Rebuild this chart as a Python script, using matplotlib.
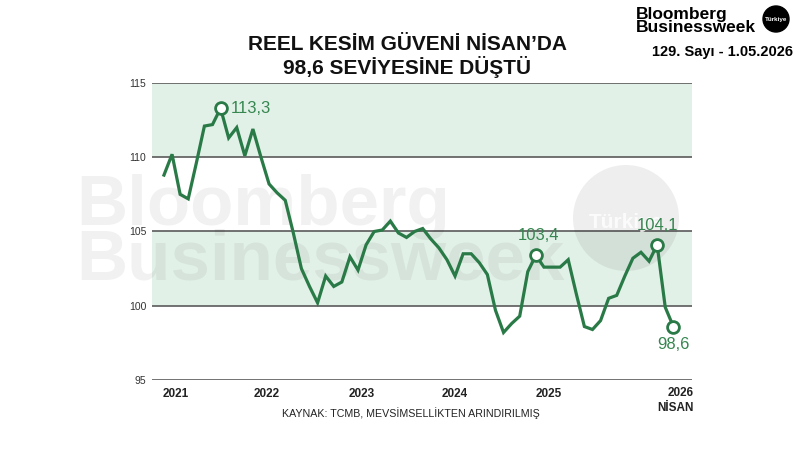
import matplotlib
matplotlib.use("Agg")
import matplotlib.pyplot as plt
from matplotlib.patches import Ellipse

plt.rcParams['font.family'] = ['Liberation Sans', 'DejaVu Sans']

# Reel kesim güven endeksi (mevsimsellikten arındırılmış), Ocak 2021 - Nisan 2026
degerler = [
    108.8, 110.2, 107.5, 107.2, 109.6, 112.1, 112.2, 113.3, 111.3, 112.0, 110.1, 111.9,
    110.0, 108.2, 107.6, 107.1, 104.9, 102.5, 101.3, 100.2, 102.0, 101.3, 101.6, 103.3,
    102.4, 104.1, 105.0, 105.1, 105.7, 104.9, 104.6, 105.0, 105.2, 104.5, 103.9, 103.1,
    102.0, 103.5, 103.5, 102.9, 102.1, 99.7, 98.2, 98.8, 99.3, 102.3, 103.4, 102.6,
    102.6, 102.6, 103.1, 100.8, 98.6, 98.4, 99.0, 100.5, 100.7, 102.0, 103.2, 103.6,
    103.0, 104.1, 99.9, 98.6,
]
aylar = list(range(len(degerler)))
isaretli = [7, 46, 61, 63]          # etiketlenen aylar
yillar = ['2021', '2022', '2023', '2024', '2025']
yil_konum = [1.4, 12.7, 24.4, 36.0, 47.6]
y_cizgiler = [95, 100, 105, 110, 115]
bantlar = [(100, 105), (110, 115)]

YESIL = '#2a7a47'
ETIKET = '#368650'
BANT = '#e2f1e8'

W, H = 800, 450
fig = plt.figure(figsize=(8, 4.5), dpi=100)

def px(x, y):
    return x / W, 1 - y / H

ax = fig.add_axes([152 / W, 1 - 380 / H, 540 / W, 297 / H])
ax.set_xlim(-1.48, 65.31)
ax.set_ylim(95, 115)

for a, b in bantlar:
    ax.axhspan(a, b, color=BANT, lw=0, zorder=0.5)
for y in y_cizgiler:
    ax.axhline(y, color='#5a5a5a', lw=1.2, zorder=1)

# filigran
ax.text(*px(76, 225), 'Bloomberg', transform=fig.transFigure, fontsize=51,
        fontweight='bold', color='black', alpha=0.055, va='baseline',
        clip_on=False, zorder=1.5)
ax.text(*px(76, 279), 'Businessweek', transform=fig.transFigure, fontsize=51,
        fontweight='bold', color='black', alpha=0.055, va='baseline',
        clip_on=False, zorder=1.5)
ax.add_patch(Ellipse(px(626, 218), 106 / W, 106 / H, transform=fig.transFigure,
                     color='black', alpha=0.065, lw=0, clip_on=False, zorder=1.5))
ax.text(*px(626, 222), 'Türkiye', transform=fig.transFigure, fontsize=15,
        fontweight='bold', color='white', alpha=0.8, ha='center', va='center',
        clip_on=False, zorder=1.6)

ax.plot(aylar, degerler, color=YESIL, lw=2.3, solid_joinstyle='miter', zorder=3)
ax.plot([aylar[i] for i in isaretli], [degerler[i] for i in isaretli], 'o',
        ms=8.5, mfc='white', mec=YESIL, mew=2, zorder=4)

ofsetler = {7: (7, 0, 'left', 'center'), 46: (2, 14, 'center', 'center'),
            61: (0, 14, 'center', 'center'), 63: (0, -13, 'center', 'center')}
for i in isaretli:
    dx, dy, ha, va = ofsetler[i]
    ax.annotate(f'{degerler[i]:.1f}'.replace('.', ','), (aylar[i], degerler[i]),
                xytext=(dx, dy), textcoords='offset points', ha=ha, va=va,
                fontsize=12, color=ETIKET, zorder=5)

for s in ax.spines.values():
    s.set_visible(False)
ax.set_yticks(y_cizgiler)
ax.set_yticklabels([str(y) for y in y_cizgiler], fontsize=7.5, color='#333333')
ax.set_xticks(yil_konum)
ax.set_xticklabels(yillar, fontsize=8.5, fontweight='bold', color='#222222')
ax.tick_params(axis='y', length=0, pad=4)
ax.tick_params(axis='x', length=0, pad=6)
ax.patch.set_alpha(0)

fig.text(*px(694, 393), '2026', ha='right', va='center', fontsize=8.5,
         fontweight='bold', color='#222222')
fig.text(*px(694, 408), 'NİSAN', ha='right', va='center', fontsize=8.5,
         fontweight='bold', color='#222222')
fig.text(*px(411, 413), 'KAYNAK: TCMB, MEVSİMSELLİKTEN ARINDIRILMIŞ', ha='center',
         va='center', fontsize=7.7, color='#222222')

# başlık
fig.text(*px(407, 45), 'REEL KESİM GÜVENİ NİSAN’DA', ha='center', va='center',
         fontsize=15, fontweight='bold', color='#111111')
fig.text(*px(407, 67), '98,6 SEVİYESİNE DÜŞTÜ', ha='center', va='center',
         fontsize=15, fontweight='bold', color='#111111')

# logo
fig.text(*px(636, 14), 'Bloomberg', ha='left', va='center', fontsize=12.5,
         fontweight='bold', color='black')
fig.text(*px(636, 28), 'Businessweek', ha='left', va='center', fontsize=12.5,
         fontweight='bold', color='black')
fig.patches.append(Ellipse(px(776, 19), 26 / W, 26 / H, transform=fig.transFigure,
                           color='black', figure=fig))
fig.text(*px(776, 19), 'Türkiye', ha='center', va='center', fontsize=4.5,
         fontweight='bold', color='white')
fig.text(*px(793, 52), '129. Sayı - 1.05.2026', ha='right', va='center',
         fontsize=10.5, fontweight='bold', color='black')

fig.savefig('out.png', dpi=100, facecolor='white')
